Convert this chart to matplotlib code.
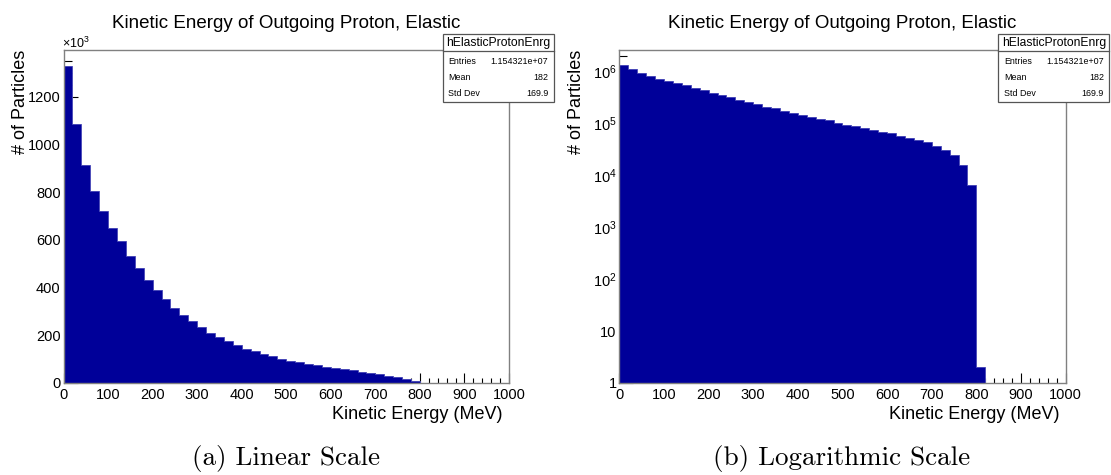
import numpy as np
import matplotlib
matplotlib.use('Agg')
import matplotlib.pyplot as plt
from matplotlib.ticker import MultipleLocator, LogLocator, FuncFormatter, NullFormatter
from matplotlib.patches import Rectangle
from matplotlib.lines import Line2D

plt.rcParams['font.family'] = ['Liberation Sans', 'DejaVu Sans']
plt.rcParams['mathtext.fontset'] = 'custom'
plt.rcParams['mathtext.rm'] = 'Liberation Sans'
plt.rcParams['mathtext.it'] = 'Liberation Sans:italic'
plt.rcParams['mathtext.default'] = 'regular'

# histogram data: 50 bins of 20 MeV, counts (thousands)
bin_edges = np.arange(0, 1001, 20)
counts_k = np.array([1330, 1085, 914, 805, 722, 652, 595, 534, 481, 432,
                     388, 351, 314, 284, 258, 235, 210, 193, 175, 158,
                     144, 133, 123, 113, 100, 94, 87, 80, 75, 69,
                     64, 58, 53, 48, 43, 37, 31, 24, 16, 6.5,
                     0.002, 0, 0, 0, 0, 0, 0, 0, 0, 0])
counts = counts_k * 1e3

hist_name = "hElasticProtonEnrg"
stat_names = ["Entries", "Mean", "Std Dev"]
stat_values = ["1.154321e+07", "182", "169.9"]

title = "Kinetic Energy of Outgoing Proton, Elastic"
xlabel = "Kinetic Energy (MeV)"
ylabel = "# of Particles"
captions = ["(a) Linear Scale", "(b) Logarithmic Scale"]

fill_color = '#000099'
edge_color = '#4b4bb8'
frame_color = '#808080'

W, H = 1111, 475
fig = plt.figure(figsize=(W / 100, H / 100), dpi=100)


def fx(px):
    return px / W


def fy(py):
    return 1 - py / H


def draw_hist(ax, vals, base):
    nz = np.nonzero(vals)[0][-1] + 1
    ax.stairs(vals[:nz], bin_edges[:nz + 1], fill=True, color=fill_color,
              baseline=base, zorder=2)
    ax.stairs(vals[:nz], bin_edges[:nz + 1], fill=False, color=edge_color,
              baseline=base, lw=0.7, zorder=2)


def style_axes(ax):
    ax.set_xlim(0, 1000)
    ax.xaxis.set_major_locator(MultipleLocator(100))
    ax.xaxis.set_minor_locator(MultipleLocator(20))
    for s in ax.spines.values():
        s.set_color(frame_color)
        s.set_linewidth(1.0)
        s.set_zorder(3)
    ax.tick_params(which='both', direction='in', top=False, right=False,
                   labelsize=10.5, width=0.8, color='black')
    ax.tick_params(axis='x', which='major', length=7.2, pad=3.5)
    ax.tick_params(axis='x', which='minor', length=3.6)
    ax.tick_params(axis='y', which='major', length=10, pad=2)
    ax.tick_params(axis='y', which='minor', length=5.5)
    ax.set_title(title, fontsize=13.5, pad=16)
    ax.set_xlabel(xlabel, fontsize=13, loc='right')
    ax.xaxis.label.set_va('center')
    ax.xaxis.set_label_coords(0.986, -0.096)
    ax.set_ylabel(ylabel, fontsize=13, loc='top')
    ax.yaxis.set_label_coords(-0.077, 1.0)


def stat_box(x0):
    y0, y1, yh, w = 34.3, 102, 51, 111
    fig.add_artist(Rectangle((fx(x0), fy(y1)), w / W, (y1 - y0) / H,
                             transform=fig.transFigure, facecolor='white',
                             edgecolor='#555555', lw=0.9, zorder=5))
    fig.add_artist(Line2D([fx(x0), fx(x0 + w)], [fy(yh), fy(yh)],
                          transform=fig.transFigure, color='#555555',
                          lw=0.9, zorder=6))
    fig.text(fx(x0 + w / 2), fy(42.7), hist_name, ha='center', va='center',
             fontsize=8.7, zorder=7)
    for i, (n, v) in enumerate(zip(stat_names, stat_values)):
        yy = 61 + i * 16.4
        fig.text(fx(x0 + 5.7), fy(yy), n, ha='left', va='center',
                 fontsize=6.4, zorder=7)
        fig.text(fx(x0 + w - 5.3), fy(yy), v, ha='right', va='center',
                 fontsize=6.4, zorder=7)


# (a) linear scale
ax1 = fig.add_axes([fx(63.5), fy(383), 445.5 / W, 333 / H])
draw_hist(ax1, counts / 1e3, 0)
style_axes(ax1)
ax1.set_ylim(0, 1.05 * counts_k.max())
ax1.yaxis.set_major_locator(MultipleLocator(200))
ax1.yaxis.set_minor_locator(MultipleLocator(50))
fig.text(fx(62), fy(47.5), '×10$^{3}$', fontsize=9, va='baseline', ha='left')

# (b) log scale
ax2 = fig.add_axes([fx(619.3), fy(383), 446.4 / W, 333 / H])
ax2.set_yscale('log')
draw_hist(ax2, counts, 0.1)
style_axes(ax2)
ax2.set_ylim(1, 2.57e6)
ax2.yaxis.set_major_locator(LogLocator(base=10, numticks=20))
ax2.yaxis.set_minor_locator(LogLocator(base=10, subs=np.arange(2, 10), numticks=20))
ax2.yaxis.set_minor_formatter(NullFormatter())


def log_fmt(v, pos):
    e = int(round(np.log10(v)))
    if e == 0:
        return '1'
    if e == 1:
        return '10'
    return '$10^{%d}$' % e


ax2.yaxis.set_major_formatter(FuncFormatter(log_fmt))

stat_box(442.7)
stat_box(998.3)

fig.text(fx(286), fy(458), captions[0], fontfamily='cmr10', fontsize=19.5,
         ha='center', va='center')
fig.text(fx(842), fy(458), captions[1], fontfamily='cmr10', fontsize=19.5,
         ha='center', va='center')

fig.savefig('out.png', dpi=100)
